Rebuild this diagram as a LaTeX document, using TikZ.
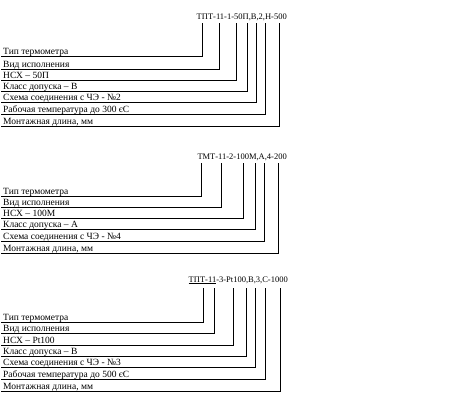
\documentclass[tikz,border=0pt]{standalone}
\usepackage{fontspec}
\setmainfont{Liberation Serif}
\begin{document}
\begin{tikzpicture}[x=1pt,y=-1pt,
  lbl/.style={anchor=base west, inner sep=0pt, font=\fontsize{9.5}{10}\selectfont},
  ttl/.style={anchor=base east, inner sep=0pt, font=\fontsize{8.5}{10}\selectfont},
  lead/.style={line width=0.8pt}]
\useasboundingbox (0,0) rectangle (469,405);
% ---- block 1
\node[ttl] (T1) at (287,19) {ТПТ-11-1-50П,В,2,Н-500};
\foreach \i/\x/\y/\t in {
  1/202.3/56.5/{Тип термометра},
  2/219.3/69/{Вид исполнения},
  3/236/80/{НСХ – 50П},
  4/247.3/91/{Класс допуска – В},
  5/256.7/102.5/{Схема соединения с ЧЭ - №2},
  6/265/114/{Рабочая температура до 300 єС},
  7/279/126/{Монтажная длина, мм}}{
  \coordinate (a1-\i) at (\x,23);
  \coordinate (b1-\i) at (1,\y);
  \node[lbl] (L1-\i) at (3,\y-2) {\t};
  \draw[lead] (a1-\i) |- (b1-\i);
}
% ---- block 2
\node[ttl] (T2) at (287,159) {ТМТ-11-2-100М,А,4-200};
\foreach \i/\x/\y/\t in {
  1/201.7/196/{Тип термометра},
  2/221.7/207/{Вид исполнения},
  3/243.3/218/{НСХ – 100М},
  4/255.7/229.5/{Класс допуска – А},
  5/264.3/241.5/{Схема соединения с ЧЭ - №4},
  6/278.7/253/{Монтажная длина, мм}}{
  \coordinate (a2-\i) at (\x,163);
  \coordinate (b2-\i) at (1,\y);
  \node[lbl] (L2-\i) at (3,\y-2) {\t};
  \draw[lead] (a2-\i) |- (b2-\i);
}
% ---- block 3
\node[ttl] (T3) at (288,282) {\underline{ТПТ-11}-3-Pt100,В,3,С-1000};
\foreach \i/\x/\y/\t in {
  1/203.3/322/{Тип термометра},
  2/214/333.3/{Вид исполнения},
  3/233.3/345/{НСХ – Pt100},
  4/246.3/356/{Класс допуска – В},
  5/255.7/367.7/{Схема соединения с ЧЭ - №3},
  6/265.3/379/{Рабочая температура до 500 єС},
  7/280.7/391/{Монтажная длина, мм}}{
  \coordinate (a3-\i) at (\x,288);
  \coordinate (b3-\i) at (1,\y);
  \node[lbl] (L3-\i) at (3,\y-2) {\t};
  \draw[lead] (a3-\i) |- (b3-\i);
}
\end{tikzpicture}
\end{document}
